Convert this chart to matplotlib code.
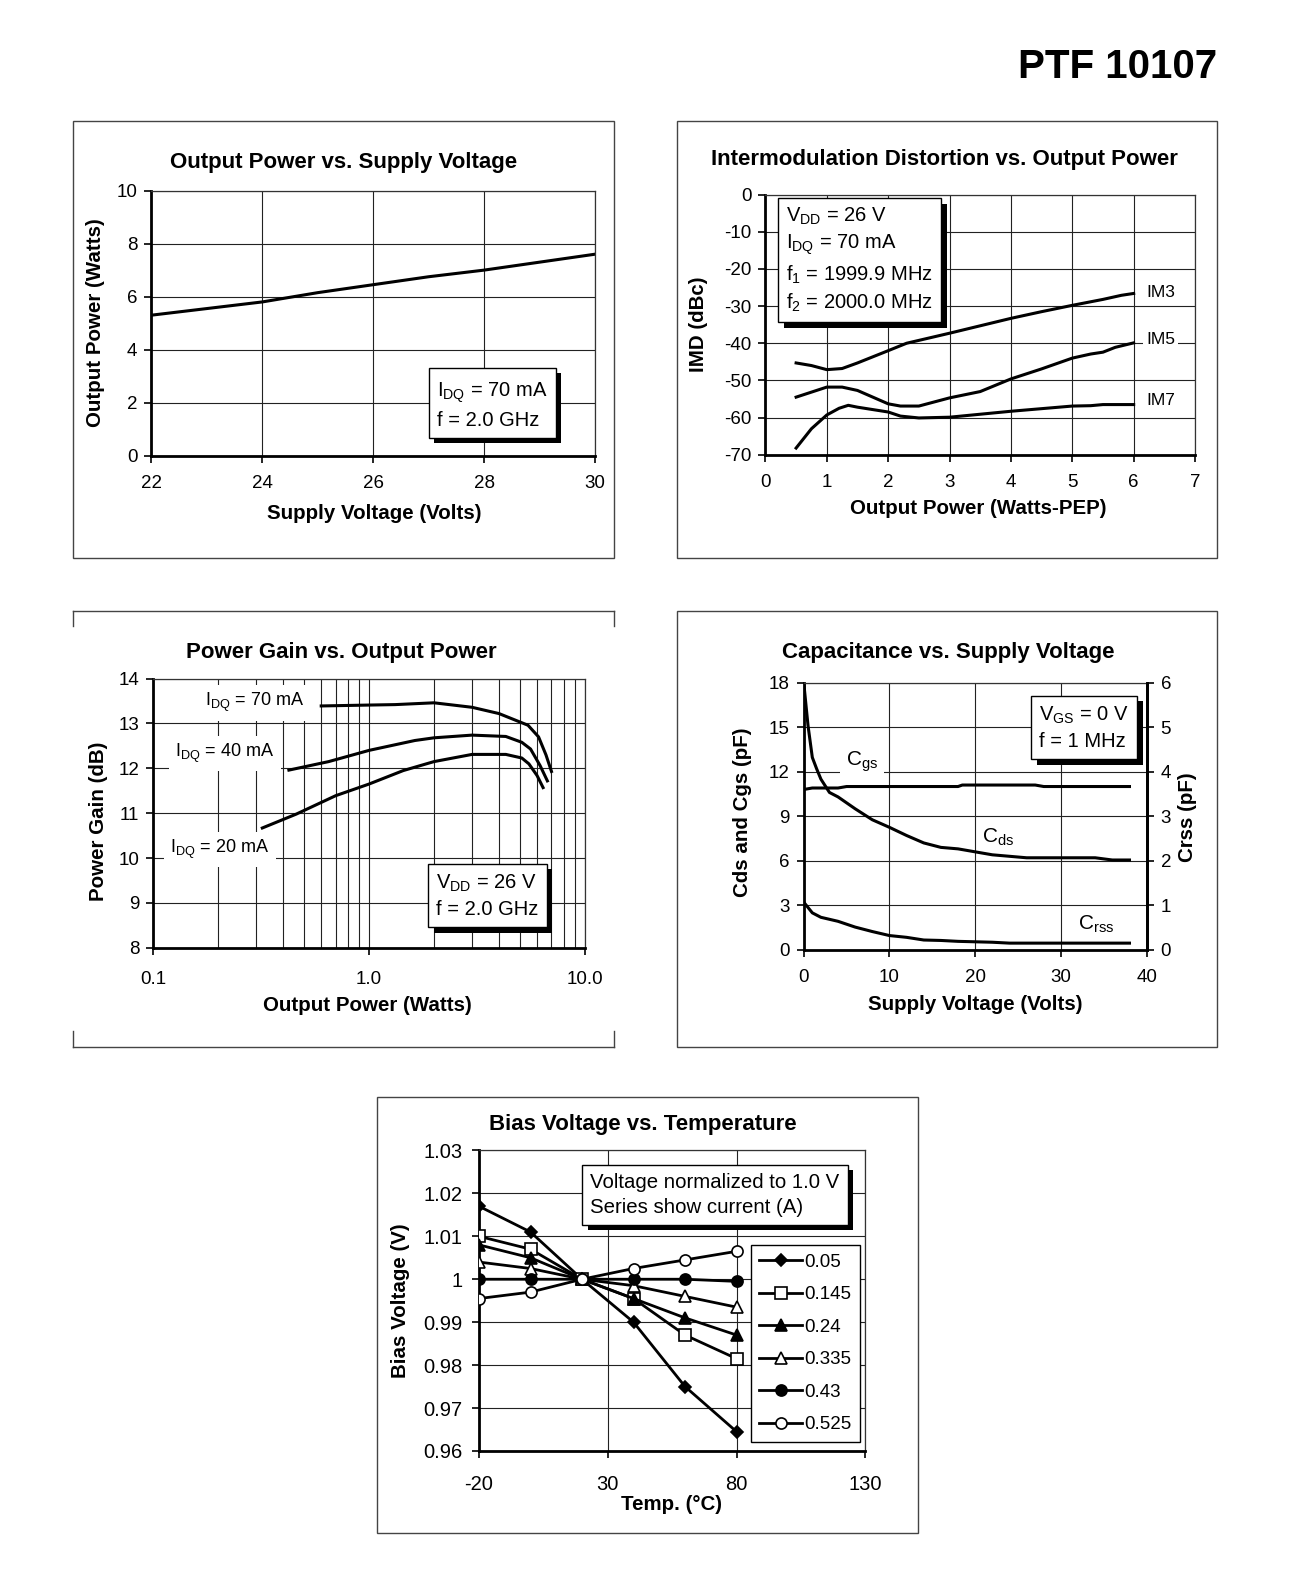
import numpy as np
import matplotlib
matplotlib.use("Agg")
import matplotlib.pyplot as plt
from matplotlib import patheffects
from matplotlib.lines import Line2D
from matplotlib.patches import Rectangle

plt.rcParams['font.family'] = ['Liberation Sans', 'DejaVu Sans']
plt.rcParams['mathtext.fontset'] = 'custom'
plt.rcParams['mathtext.rm'] = 'Liberation Sans'
plt.rcParams['mathtext.it'] = 'Liberation Sans'
plt.rcParams['mathtext.bf'] = 'Liberation Sans:bold'
plt.rcParams['axes.unicode_minus'] = False

# ---------------- data ----------------
# Output power vs supply voltage
vdd = [22, 23, 24, 25, 26, 27, 28, 29, 30]
pout = [5.3, 5.55, 5.8, 6.15, 6.45, 6.75, 7.0, 7.3, 7.6]

# IMD vs output power
imd3_x = [0.5, 0.75, 1.0, 1.25, 1.5, 2.0, 2.3, 3.0, 4.0, 4.5, 5.0, 5.5, 5.8, 6.0]
imd3_y = [-45.3, -46.0, -47.1, -46.8, -45.3, -42.0, -40.0, -37.3, -33.3, -31.5, -29.8, -28.2, -27.1, -26.6]
imd5_x = [0.5, 1.0, 1.25, 1.5, 2.0, 2.2, 2.5, 3.0, 3.5, 4.0, 4.5, 5.0, 5.3, 5.5, 5.7, 6.0]
imd5_y = [-54.5, -51.8, -51.8, -52.7, -56.3, -56.9, -56.9, -54.7, -53.0, -49.6, -46.9, -44.0, -42.9, -42.4, -41.1, -39.9]
imd7_x = [0.5, 0.75, 1.0, 1.2, 1.35, 1.5, 2.0, 2.2, 2.5, 3.0, 4.0, 5.0, 5.3, 5.5, 6.0]
imd7_y = [-68.2, -63.0, -59.3, -57.5, -56.7, -57.2, -58.5, -59.6, -60.1, -59.9, -58.3, -56.9, -56.8, -56.5, -56.5]

# Power gain vs output power
g70_x = [0.60, 1.0, 1.32, 2.0, 3.0, 4.0, 5.45, 6.1, 6.6, 7.0]
g70_y = [13.39, 13.41, 13.42, 13.46, 13.36, 13.22, 12.96, 12.70, 12.30, 11.93]
g40_x = [0.425, 0.65, 1.0, 1.63, 2.0, 3.0, 4.3, 5.1, 5.6, 6.2, 6.7]
g40_y = [11.96, 12.15, 12.40, 12.62, 12.68, 12.74, 12.71, 12.58, 12.43, 12.06, 11.72]
g20_x = [0.32, 0.46, 0.70, 1.0, 1.44, 2.0, 3.0, 4.3, 5.1, 5.5, 6.0, 6.4]
g20_y = [10.67, 10.98, 11.39, 11.65, 11.95, 12.15, 12.31, 12.31, 12.23, 12.10, 11.84, 11.57]

# Capacitance vs supply voltage
cgs_x = [0, 1, 4, 5, 18, 18.5, 27, 28, 38]
cgs_y = [10.8, 10.9, 10.9, 11.0, 11.0, 11.1, 11.1, 11.0, 11.0]
cds_x = [0, 0.5, 1, 1.5, 2, 3, 4, 6, 8, 10, 12, 14, 16, 18, 20, 22, 24, 26, 30, 34, 36, 38]
cds_y = [18.0, 15.1, 12.96, 12.2, 11.5, 10.6, 10.3, 9.5, 8.76, 8.25, 7.7, 7.2, 6.9, 6.8, 6.6, 6.4, 6.3, 6.2, 6.2, 6.2, 6.05, 6.05]
crss_x = [0, 1, 2, 4, 6, 8, 10, 12, 14, 16, 18, 22, 24, 30, 38]
crss_y = [1.07, 0.83, 0.73, 0.64, 0.51, 0.41, 0.32, 0.28, 0.22, 0.21, 0.19, 0.17, 0.15, 0.15, 0.15]

# Bias voltage vs temperature
temp = [-20, 0, 20, 40, 60, 80]
bias_labels = ['0.05', '0.145', '0.24', '0.335', '0.43', '0.525']
b005 = [1.017, 1.011, 1.000, 0.990, 0.975, 0.9645]
b0145 = [1.010, 1.007, 1.000, 0.9955, 0.987, 0.9815]
b024 = [1.008, 1.005, 1.000, 0.9955, 0.991, 0.987]
b0335 = [1.004, 1.0025, 1.000, 0.9985, 0.996, 0.9935]
b043 = [1.000, 1.000, 1.000, 1.000, 1.000, 0.9995]
b0525 = [0.9955, 0.997, 1.000, 1.0025, 1.0045, 1.0065]

# ---------------- figure ----------------
W, H = 1300.0, 1568.0
fig = plt.figure(figsize=(13.11, 15.81), dpi=100)

TICK_FS = 13.5

def fx(x):
    return x / W

def fy(y):
    return 1 - y / H

def add_ax(l, r, t, b):
    ax = fig.add_axes([fx(l), fy(b), (r - l) / W, (b - t) / H])
    ax.set_facecolor('white')
    for s in ['top', 'right']:
        ax.spines[s].set_linewidth(0.9)
        ax.spines[s].set_color('#333333')
    for s in ['left', 'bottom']:
        ax.spines[s].set_linewidth(2.0)
        ax.spines[s].set_color('black')
    ax.tick_params(direction='out', length=5, width=1.2, labelsize=TICK_FS, pad=5, colors='black')
    ax.grid(True, which='major', color='#222222', lw=0.8)
    ax.set_axisbelow(True)
    return ax

def frame(l, r, t, b):
    fig.add_artist(Rectangle((fx(l), fy(b)), (r - l) / W, (b - t) / H,
                             transform=fig.transFigure, fill=False, lw=1.0,
                             edgecolor='#444444'))

def shadow_text(ax, x, y, s, fs=14.5, **kw):
    t = ax.text(x, y, s, fontsize=fs, va='center', ha='left', zorder=10,
                bbox=dict(boxstyle='square,pad=0.4', fc='white', ec='black', lw=1.0), **kw)
    t.get_bbox_patch().set_path_effects([
        patheffects.withSimplePatchShadow(offset=(4, -4), shadow_rgbFace='black', alpha=1.0)])
    return t

TITLE_FS = 16
LABEL_FS = 14.8
LW = 2.2

fig.text(fx(1207), fy(66), 'PTF 10107', fontsize=29, fontweight='bold', ha='right', va='center')

# ---- Top-left ----
frame(72, 609, 120, 553)
ax = add_ax(150, 590, 189, 452)
ax.plot(vdd, pout, color='black', lw=LW)
ax.set_xlim(22, 30)
ax.set_ylim(0, 10)
ax.set_xticks([22, 24, 26, 28, 30])
ax.set_yticks([0, 2, 4, 6, 8, 10])
ax.tick_params(axis='x', pad=9)
fig.text(fx(341), fy(161), 'Output Power vs. Supply Voltage', fontsize=TITLE_FS, fontweight='bold', ha='center', va='center')
fig.text(fx(371), fy(509), 'Supply Voltage (Volts)', fontsize=LABEL_FS, fontweight='bold', ha='center', va='center')
fig.text(fx(95), fy(320), 'Output Power (Watts)', fontsize=LABEL_FS, fontweight='bold', ha='center', va='center', rotation=90)
shadow_text(ax, 27.15, 1.92, 'I$_{\\mathregular{DQ}}$ = 70 mA\nf = 2.0 GHz', linespacing=1.4)

# ---- Top-right ----
frame(671, 1207, 120, 553)
ax = add_ax(759, 1185, 193, 451)
ax.plot(imd3_x, imd3_y, color='black', lw=LW)
ax.plot(imd5_x, imd5_y, color='black', lw=LW)
ax.plot(imd7_x, imd7_y, color='black', lw=LW)
ax.set_xlim(0, 7)
ax.set_ylim(-70, 0)
ax.set_xticks(range(0, 8))
ax.set_yticks(range(-70, 1, 10))
ax.tick_params(axis='x', pad=9)
fig.text(fx(937), fy(158), 'Intermodulation Distortion vs. Output Power', fontsize=TITLE_FS, fontweight='bold', ha='center', va='center')
fig.text(fx(970), fy(504), 'Output Power (Watts-PEP)', fontsize=LABEL_FS, fontweight='bold', ha='center', va='center')
fig.text(fx(693), fy(322), 'IMD (dBc)', fontsize=LABEL_FS, fontweight='bold', ha='center', va='center', rotation=90)
shadow_text(ax, 0.34, -17.6,
            'V$_{\\mathregular{DD}}$ = 26 V\nI$_{\\mathregular{DQ}}$ = 70 mA\n'
            'f$_{\\mathregular{1}}$ = 1999.9 MHz\nf$_{\\mathregular{2}}$ = 2000.0 MHz', linespacing=1.35)
for lab, yy in [('IM3', -26.3), ('IM5', -39.1), ('IM7', -55.3)]:
    ax.text(6.2, yy, lab, fontsize=12.5, ha='left', va='center', zorder=5,
            bbox=dict(boxstyle='square,pad=0.15', fc='white', ec='none'))

# ---- Middle-left ----
l, r, t, b = 72, 609, 606, 1038
fig.add_artist(Line2D([fx(l), fx(r)], [fy(t), fy(t)], transform=fig.transFigure, color='#444444', lw=1))
fig.add_artist(Line2D([fx(l), fx(r)], [fy(b), fy(b)], transform=fig.transFigure, color='#444444', lw=1))
for xx in (l, r):
    fig.add_artist(Line2D([fx(xx), fx(xx)], [fy(t), fy(t + 15)], transform=fig.transFigure, color='#444444', lw=1))
    fig.add_artist(Line2D([fx(xx), fx(xx)], [fy(b), fy(b - 15)], transform=fig.transFigure, color='#444444', lw=1))
ax = add_ax(152, 580, 673, 940)
ax.set_xscale('log')
ax.plot(g70_x, g70_y, color='black', lw=LW)
ax.plot(g40_x, g40_y, color='black', lw=LW)
ax.plot(g20_x, g20_y, color='black', lw=LW)
ax.set_xlim(0.1, 10)
ax.set_ylim(8, 14)
ax.set_yticks(range(8, 15))
ax.set_xticks([0.1, 1.0, 10.0])
ax.set_xticklabels(['0.1', '1.0', '10.0'])
ax.xaxis.set_minor_locator(matplotlib.ticker.LogLocator(base=10, subs=np.arange(2, 10)))
ax.xaxis.set_minor_formatter(matplotlib.ticker.NullFormatter())
ax.tick_params(axis='x', which='minor', length=0)
ax.tick_params(axis='x', pad=12)
ax.grid(True, which='minor', axis='x', color='#222222', lw=0.8)
fig.text(fx(338), fy(647), 'Power Gain vs. Output Power', fontsize=TITLE_FS, fontweight='bold', ha='center', va='center')
fig.text(fx(364), fy(997), 'Output Power (Watts)', fontsize=LABEL_FS, fontweight='bold', ha='center', va='center')
fig.text(fx(98), fy(815), 'Power Gain (dB)', fontsize=LABEL_FS, fontweight='bold', ha='center', va='center', rotation=90)
for lab, xx, yy in [('70', 0.296, 13.46), ('40', 0.215, 12.33), ('20', 0.203, 10.19)]:
    ax.text(xx, yy, 'I$_{\\mathregular{DQ}}$ = ' + lab + ' mA', fontsize=13, ha='center', va='center', zorder=5,
            bbox=dict(boxstyle='square,pad=0.35', fc='white', ec='none'))
shadow_text(ax, 2.05, 9.15, 'V$_{\\mathregular{DD}}$ = 26 V\nf = 2.0 GHz', linespacing=1.4)

# ---- Middle-right ----
frame(671, 1207, 606, 1038)
ax = add_ax(797, 1137, 677, 942)
ax.spines['right'].set_linewidth(2.0)
ax.spines['right'].set_color('black')
ax.plot(cgs_x, cgs_y, color='black', lw=LW)
ax.plot(cds_x, cds_y, color='black', lw=LW)
ax.set_xlim(0, 40)
ax.set_ylim(0, 18)
ax.set_xticks(range(0, 41, 10))
ax.set_yticks(range(0, 19, 3))
ax.tick_params(axis='x', pad=9)
ax2 = ax.twinx()
ax2.plot(crss_x, crss_y, color='black', lw=LW)
ax2.set_ylim(0, 6)
ax2.set_yticks(range(0, 7))
ax2.tick_params(direction='out', length=5, width=1.2, labelsize=TICK_FS, pad=5)
for s in ['left', 'top', 'bottom']:
    ax2.spines[s].set_visible(False)
ax2.spines['right'].set_linewidth(2.0)
fig.text(fx(940), fy(647), 'Capacitance vs. Supply Voltage', fontsize=TITLE_FS, fontweight='bold', ha='center', va='center')
fig.text(fx(967), fy(996), 'Supply Voltage (Volts)', fontsize=LABEL_FS, fontweight='bold', ha='center', va='center')
fig.text(fx(736), fy(806), 'Cds and Cgs (pF)', fontsize=LABEL_FS, fontweight='bold', ha='center', va='center', rotation=90)
fig.text(fx(1178), fy(810), 'Crss (pF)', fontsize=LABEL_FS, fontweight='bold', ha='center', va='center', rotation=90)
ax.text(6.8, 12.7, 'C$_{\\mathregular{gs}}$', fontsize=15, ha='center', va='center', zorder=5,
        bbox=dict(boxstyle='square,pad=0.3', fc='white', ec='none'))
ax.text(22.7, 7.6, 'C$_{\\mathregular{ds}}$', fontsize=15, ha='center', va='center', zorder=5)
ax.text(34.1, 1.7, 'C$_{\\mathregular{rss}}$', fontsize=15, ha='center', va='center', zorder=5)
shadow_text(ax, 27.5, 14.94, 'V$_{\\mathregular{GS}}$ = 0 V\nf = 1 MHz', linespacing=1.4)

# ---- Bottom ----
frame(374, 910, 1088, 1520)
ax = add_ax(475, 858, 1141, 1439)
styles = [
    (b005, 'D', 'black', 6),
    (b0145, 's', 'white', 8),
    (b024, '^', 'black', 8),
    (b0335, '^', 'white', 8),
    (b043, 'o', 'black', 8),
    (b0525, 'o', 'white', 8),
]
for (vals, m, fc, ms), lab in zip(styles, bias_labels):
    ax.plot(temp, vals, color='black', lw=2.0, marker=m, markerfacecolor=fc,
            markeredgecolor='black', markersize=ms, markeredgewidth=1.2, label=lab, zorder=3)
ax.set_xlim(-20, 130)
ax.set_ylim(0.96, 1.03)
ax.set_xticks([-20, 30, 80, 130])
ax.set_yticks(np.arange(0.96, 1.0301, 0.01))
ax.set_yticklabels(['0.96', '0.97', '0.98', '0.99', '1', '1.01', '1.02', '1.03'])
ax.tick_params(labelsize=14.5, pad=7)
ax.tick_params(axis='x', pad=12)
leg = ax.legend(loc='lower right', bbox_to_anchor=(0.987, 0.03), fontsize=13.5, frameon=True,
                fancybox=False, edgecolor='black', framealpha=1.0, handlelength=2.3,
                handletextpad=0.12, labelspacing=0.82, borderpad=0.45, borderaxespad=0.0)
leg.get_frame().set_linewidth(1.0)
fig.text(fx(637), fy(1115), 'Bias Voltage vs. Temperature', fontsize=TITLE_FS, fontweight='bold', ha='center', va='center')
fig.text(fx(666), fy(1492), 'Temp. (\u00b0C)', fontsize=LABEL_FS, fontweight='bold', ha='center', va='center')
fig.text(fx(397), fy(1290), 'Bias Voltage (V)', fontsize=LABEL_FS, fontweight='bold', ha='center', va='center', rotation=90)
shadow_text(ax, 23.2, 1.0197, 'Voltage normalized to 1.0 V\nSeries show current (A)', fs=14.7, linespacing=1.4)

fig.savefig('out.png', dpi=100, facecolor='white')
